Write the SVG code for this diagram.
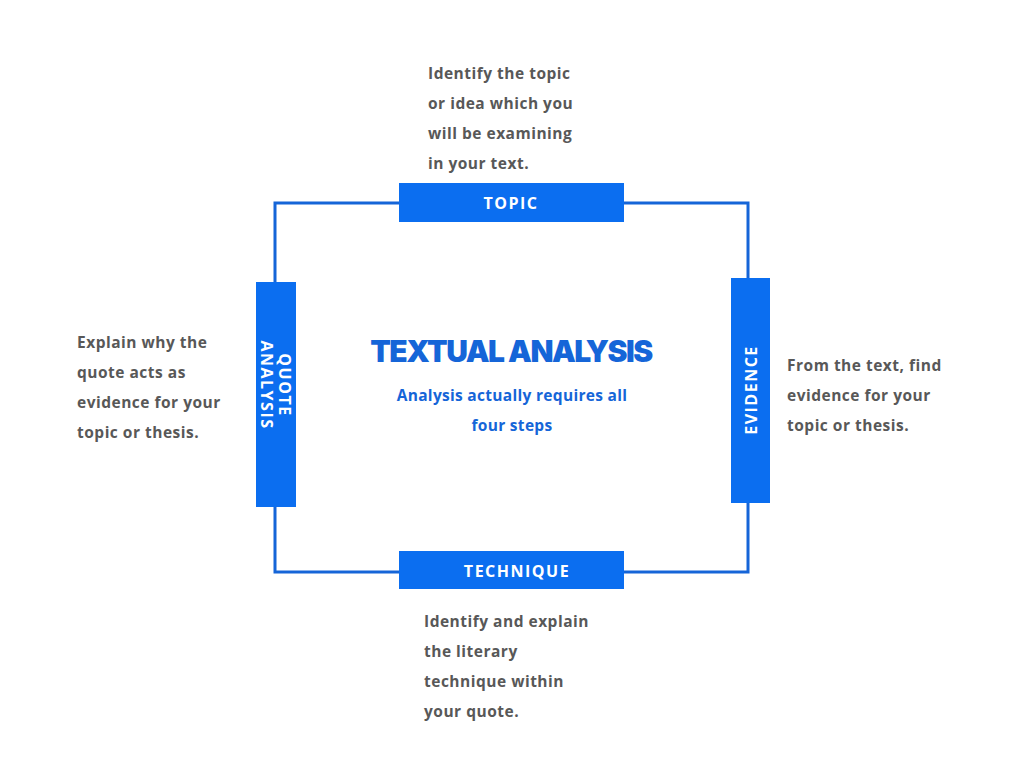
<svg xmlns="http://www.w3.org/2000/svg" width="1024" height="768" viewBox="0 0 1024 768">
<style>
.box{fill:#0b6ef0}
.lbl{font-family:"Open Sans","Liberation Sans",sans-serif;font-weight:700;font-size:16px;fill:#fff;letter-spacing:1.5px;text-anchor:middle}
.desc{font-family:"Open Sans","Liberation Sans",sans-serif;font-weight:700;font-size:15.5px;fill:#585858;letter-spacing:0.5px}
.line{fill:none;stroke:#1565d8;stroke-width:3}
</style>
<rect width="1024" height="768" fill="#fff"/>
<g id="connectors"><rect class="line" x="275" y="203" width="473" height="369"/></g>
<g id="topic"><rect class="box" x="399" y="183" width="225" height="39"/><text class="lbl" x="511" y="209">TOPIC</text></g>
<g id="technique"><rect class="box" x="399" y="551" width="225" height="38"/><text class="lbl" x="517" y="577">TECHNIQUE</text></g>
<g id="quote"><rect class="box" x="256" y="282" width="40" height="225"/>
<text class="lbl" transform="translate(276,385) rotate(90)"><tspan x="0" y="-3">QUOTE</tspan><tspan x="0" y="15">ANALYSIS</tspan></text></g>
<g id="evidence"><rect class="box" x="731" y="278" width="39" height="225"/><text class="lbl" transform="translate(757,390) rotate(-90)">EVIDENCE</text></g>
<g id="center">
<text x="511" y="362" text-anchor="middle" font-family="Inter,'Liberation Sans',sans-serif" font-weight="900" font-size="30" letter-spacing="-1.5" fill="#1565d8">TEXTUAL ANALYSIS</text>
<text x="512" y="401" text-anchor="middle" font-family="'Open Sans','Liberation Sans',sans-serif" font-weight="700" font-size="15.5" fill="#1565d8" letter-spacing="0.3">Analysis actually requires all</text>
<text x="512" y="431" text-anchor="middle" font-family="'Open Sans','Liberation Sans',sans-serif" font-weight="700" font-size="15.5" fill="#1565d8" letter-spacing="0.3">four steps</text>
</g>
<g id="topic-desc"><text class="desc" x="428" y="79">Identify the topic</text><text class="desc" x="428" y="109">or idea which you</text><text class="desc" x="428" y="139">will be examining</text><text class="desc" x="428" y="169">in your text.</text></g>
<g id="quote-desc"><text class="desc" x="77" y="348">Explain why the</text><text class="desc" x="77" y="378">quote acts as</text><text class="desc" x="77" y="408">evidence for your</text><text class="desc" x="77" y="438">topic or thesis.</text></g>
<g id="evidence-desc"><text class="desc" x="787" y="371">From the text, find</text><text class="desc" x="787" y="401">evidence for your</text><text class="desc" x="787" y="431">topic or thesis.</text></g>
<g id="technique-desc"><text class="desc" x="424" y="627">Identify and explain</text><text class="desc" x="424" y="657">the literary</text><text class="desc" x="424" y="687">technique within</text><text class="desc" x="424" y="717">your quote.</text></g>
</svg>
